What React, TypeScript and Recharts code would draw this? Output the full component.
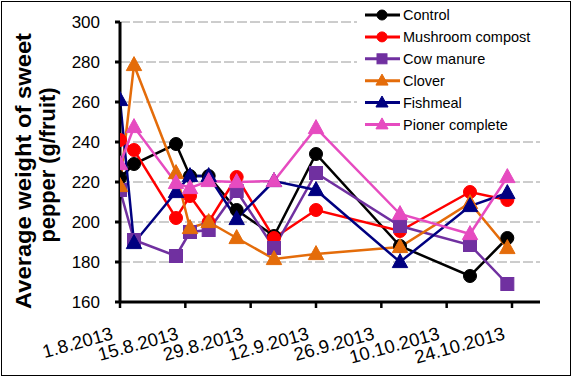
import React from 'react';
import { LineChart, Line, XAxis, YAxis, CartesianGrid, Legend, Label } from 'recharts';

// ---- data ----
const sampleDates = ['2013-08-01', '2013-08-04', '2013-08-13', '2013-08-16', '2013-08-20', '2013-08-26', '2013-09-03', '2013-09-12', '2013-09-30', '2013-10-15', '2013-10-23'];
const tickDates = ['2013-08-01', '2013-08-15', '2013-08-29', '2013-09-12', '2013-09-26', '2013-10-10', '2013-10-24'];
const axisStart = '2013-08-01';
const axisEnd = '2013-10-30';
const yTicks = [160, 180, 200, 220, 240, 260, 280, 300];

const control = [222, 229, 239, 223, 223, 206, 193, 234, 188, 173, 192];
const mushroomCompost = [241, 236, 202, 213, 200, 222.5, 192, 206, 195.5, 215, 211];
const cowManure = [216, 191, 183, 195, 196, 215.5, 187, 224.5, 198, 188.5, 169];
const clover = [218, 278.5, 224.5, 197, 200, 192, 181.5, 184, 187.5, 209.5, 187];
const fishmeal = [261, 189.5, 215, 223, 223, 201.5, 220.5, 216, 180, 208, 214.5];
const pionerComplete = [229, 247.5, 219.5, 217, 220.5, 220, 220.5, 247, 204, 194, 222.5];

const seriesNames = ['Control', 'Mushroom compost', 'Cow manure', 'Clover', 'Fishmeal', 'Pioner complete'];
const seriesColors = ['#000000', '#FF0000', '#7030A0', '#E46C0A', '#000080', '#E64BC0'];
const seriesShapes = ['circle', 'circle', 'square', 'triangle', 'triangle', 'triangle'];
const seriesValues = [control, mushroomCompost, cowManure, clover, fishmeal, pionerComplete];

// ---- helpers ----
const toDay = (s: string) => {
  const [y, m, d] = s.split('-').map(Number);
  return Date.UTC(y, m - 1, d) / 86400000;
};
const fmtDay = (v: number) => {
  const dt = new Date(v * 86400000);
  return `${dt.getUTCDate()}.${dt.getUTCMonth() + 1}.${dt.getUTCFullYear()}`;
};

const keys = seriesNames.map((_, i) => `s${i}`);
const data = sampleDates.map((d, i) => {
  const row: any = { t: toDay(d) };
  seriesValues.forEach((vals, j) => {
    row[keys[j]] = vals[i];
  });
  return row;
});

const FONT = '"Liberation Sans", Arial, sans-serif';

const Marker = ({ cx, cy, shape, color, size }: any) => {
  if (shape === 'circle') return <circle cx={cx} cy={cy} r={size * 0.5} fill={color} stroke={color} strokeWidth={1} />;
  if (shape === 'square')
    return <rect x={cx - size * 0.5} y={cy - size * 0.5} width={size} height={size} fill={color} stroke={color} strokeWidth={1} />;
  const h = size * 1.0;
  return (
    <polygon
      points={`${cx},${cy - h * 0.6} ${cx + size * 0.55},${cy + h * 0.4} ${cx - size * 0.55},${cy + h * 0.4}`}
      fill={color}
      stroke={color}
      strokeWidth={1}
    />
  );
};

const makeDot = (shape: string, color: string) => (props: any) => {
  const { cx, cy, index } = props;
  if (cx == null || cy == null) return <g key={`d${index}`} />;
  return (
    <g key={`d${index}`}>
      <Marker cx={cx} cy={cy} shape={shape} color={color} size={shape === 'triangle' ? 14 : 13} />
    </g>
  );
};

const XTICK_FS = 18.5;
const XTick = (props: any) => {
  const { x, y, payload } = props;
  const label = fmtDay(payload.value);
  const digits = label.replace(/\D/g, '').length;
  const dots = label.length - digits;
  const len = (digits * 0.556 + dots * 0.278) * XTICK_FS;
  const ax = x - 6;
  const ay = y + 29;
  return (
    <text
      x={ax}
      y={ay}
      transform={`rotate(-15.5 ${ax} ${ay})`}
      textAnchor="end"
      fontSize={XTICK_FS}
      fontFamily={FONT}
      textLength={len}
      lengthAdjust="spacingAndGlyphs"
      fill="#000"
    >
      {label}
    </text>
  );
};

const YTitle = () => (
  <g>
    <text
      x={31}
      y={171}
      transform="rotate(-90 31 171)"
      textAnchor="middle"
      fontSize={22}
      fontWeight="bold"
      fontFamily={FONT}
      fill="#000"
      textLength={276}
      lengthAdjust="spacingAndGlyphs"
    >
      Average weight of sweet
    </text>
    <text
      x={55}
      y={165}
      transform="rotate(-90 55 165)"
      textAnchor="middle"
      fontSize={22}
      fontWeight="bold"
      fontFamily={FONT}
      fill="#000"
      textLength={155}
      lengthAdjust="spacingAndGlyphs"
    >
      pepper (g/fruit)
    </text>
  </g>
);

const LegendBox = () => (
  <svg width={190} height={132} style={{ display: 'block' }}>
    {seriesNames.map((name, i) => {
      const cy = 13 + i * 21.9;
      return (
        <g key={name}>
          <line x1={8} x2={43} y1={cy} y2={cy} stroke={seriesColors[i]} strokeWidth={3} />
          <Marker cx={25} cy={cy} shape={seriesShapes[i]} color={seriesColors[i]} size={seriesShapes[i] === 'triangle' ? 11 : 10} />
          <text x={46} y={cy + 5} fontSize={14.5} fontFamily={FONT} fill="#000">
            {name}
          </text>
        </g>
      );
    })}
  </svg>
);

export default function App() {
  return (
    <div style={{ position: 'absolute', left: 0, top: 0, width: 575, height: 379, background: '#fff' }}>
      <div
        style={{
          position: 'absolute',
          left: 1,
          top: 1,
          width: 570,
          height: 375,
          border: '1px solid #000',
          boxSizing: 'border-box',
          pointerEvents: 'none',
        }}
      />
      <LineChart width={575} height={379} data={data} margin={{ top: 22, right: 35, bottom: 27, left: 60 }}>
        <CartesianGrid horizontal vertical={false} stroke="#9a9a9a" strokeDasharray="10 3" />
        <XAxis
          type="number"
          dataKey="t"
          domain={[toDay(axisStart), toDay(axisEnd)]}
          ticks={tickDates.map(toDay)}
          interval={0}
          allowDataOverflow
          height={50}
          tickSize={6}
          axisLine={{ stroke: '#000', strokeWidth: 3 }}
          tickLine={{ stroke: '#000', strokeWidth: 2.5 }}
          tick={XTick}
        />
        <YAxis
          type="number"
          domain={[160, 300]}
          ticks={yTicks}
          interval={0}
          width={60}
          tickSize={5}
          tickMargin={15}
          axisLine={{ stroke: '#000', strokeWidth: 3 }}
          tickLine={{ stroke: '#000', strokeWidth: 3 }}
          tick={{ fontSize: 17, fill: '#000', fontFamily: FONT }}
        >
          <Label content={YTitle} />
        </YAxis>
        {keys.map((k, i) => (
          <Line
            key={k}
            dataKey={k}
            name={seriesNames[i]}
            stroke={seriesColors[i]}
            strokeWidth={2.5}
            dot={makeDot(seriesShapes[i], seriesColors[i])}
            activeDot={false}
            isAnimationActive={false}
          />
        ))}
        <Legend
          layout="vertical"
          align="center"
          verticalAlign="middle"
          content={LegendBox}
          wrapperStyle={{ left: 357, top: 2, width: 190, height: 132, background: '#fff' }}
        />
      </LineChart>
    </div>
  );
}
